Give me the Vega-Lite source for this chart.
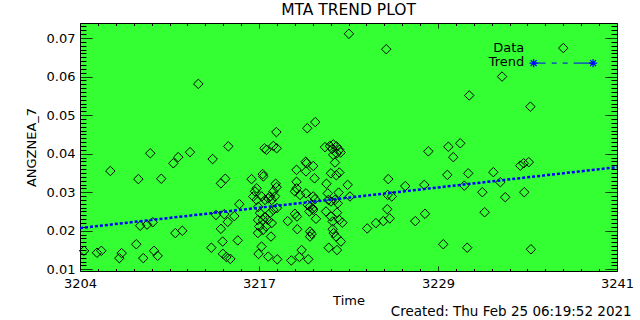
{
  "$schema": "https://vega.github.io/schema/vega-lite/v6.json",
  "width": 537,
  "height": 248,
  "autosize": {"type": "none"},
  "padding": {"left": 80, "top": 23, "right": 23, "bottom": 49},
  "background": "white",
  "title": {"text": "MTA TREND PLOT", "fontSize": 15.5, "fontWeight": "normal", "frame": "group", "anchor": "middle", "offset": 2, "color": "black", "font": "DejaVu Sans"},
  "config": {
    "view": {"stroke": "black", "strokeWidth": 1, "fill": "#33ff33"},
    "font": "DejaVu Sans",
    "axis": {"grid": false, "domain": false, "tickColor": "black", "tickWidth": 1, "labelColor": "black", "titleColor": "black", "labelFont": "DejaVu Sans", "titleFont": "DejaVu Sans", "labelFontSize": 13, "titleFontSize": 13, "titleFontWeight": "normal", "labelOverlap": false, "labelFlush": false, "labelBound": false}
  },
  "datasets": {
    "obs": [
      {"time": 3204.28, "val": 0.0148}, {"time": 3205.17, "val": 0.0143}, {"time": 3205.47, "val": 0.0148}, {"time": 3206.09, "val": 0.0355},
      {"time": 3206.71, "val": 0.0129}, {"time": 3206.87, "val": 0.0142}, {"time": 3207.88, "val": 0.0165}, {"time": 3208.02, "val": 0.0334},
      {"time": 3208.15, "val": 0.0213}, {"time": 3208.36, "val": 0.0129}, {"time": 3208.62, "val": 0.0216}, {"time": 3208.84, "val": 0.0401},
      {"time": 3209.01, "val": 0.0222}, {"time": 3209.10, "val": 0.0148}, {"time": 3209.35, "val": 0.0135}, {"time": 3209.60, "val": 0.0335},
      {"time": 3210.43, "val": 0.0375}, {"time": 3210.57, "val": 0.0194}, {"time": 3210.77, "val": 0.0391}, {"time": 3211.05, "val": 0.0200},
      {"time": 3211.58, "val": 0.0404}, {"time": 3212.15, "val": 0.0581}, {"time": 3213.05, "val": 0.0156}, {"time": 3213.14, "val": 0.0386},
      {"time": 3213.37, "val": 0.0241}, {"time": 3213.71, "val": 0.0323}, {"time": 3214.01, "val": 0.0335}, {"time": 3213.71, "val": 0.0205},
      {"time": 3214.18, "val": 0.0223}, {"time": 3213.94, "val": 0.0243}, {"time": 3214.63, "val": 0.0238}, {"time": 3214.22, "val": 0.0419},
      {"time": 3214.87, "val": 0.0175}, {"time": 3213.83, "val": 0.0172}, {"time": 3213.85, "val": 0.0140}, {"time": 3214.09, "val": 0.0132},
      {"time": 3214.36, "val": 0.0127}, {"time": 3214.98, "val": 0.0269},
      {"time": 3215.82, "val": 0.0334}, {"time": 3216.59, "val": 0.0347}, {"time": 3216.63, "val": 0.0341}, {"time": 3216.71, "val": 0.0414},
      {"time": 3216.85, "val": 0.0410}, {"time": 3217.32, "val": 0.0420}, {"time": 3217.55, "val": 0.0414}, {"time": 3217.53, "val": 0.0456},
      {"time": 3217.48, "val": 0.0322}, {"time": 3216.17, "val": 0.0310}, {"time": 3216.06, "val": 0.0302}, {"time": 3215.94, "val": 0.0289},
      {"time": 3216.17, "val": 0.0280}, {"time": 3216.52, "val": 0.0289}, {"time": 3216.75, "val": 0.0280}, {"time": 3217.09, "val": 0.0289},
      {"time": 3216.97, "val": 0.0284}, {"time": 3217.21, "val": 0.0280}, {"time": 3217.44, "val": 0.0289}, {"time": 3217.32, "val": 0.0302},
      {"time": 3217.55, "val": 0.0313}, {"time": 3216.28, "val": 0.0262}, {"time": 3216.40, "val": 0.0246}, {"time": 3216.26, "val": 0.0228},
      {"time": 3216.61, "val": 0.0228}, {"time": 3216.95, "val": 0.0228}, {"time": 3217.09, "val": 0.0246}, {"time": 3217.32, "val": 0.0254},
      {"time": 3217.57, "val": 0.0259}, {"time": 3216.75, "val": 0.0236}, {"time": 3217.21, "val": 0.0220}, {"time": 3216.26, "val": 0.0194},
      {"time": 3216.35, "val": 0.0211}, {"time": 3216.82, "val": 0.0211}, {"time": 3217.16, "val": 0.0185}, {"time": 3216.51, "val": 0.0159},
      {"time": 3216.30, "val": 0.0140}, {"time": 3216.97, "val": 0.0133}, {"time": 3217.59, "val": 0.0126}, {"time": 3216.61, "val": 0.0202},
      {"time": 3218.31, "val": 0.0225}, {"time": 3218.92, "val": 0.0358}, {"time": 3218.92, "val": 0.0327}, {"time": 3218.93, "val": 0.0310},
      {"time": 3218.81, "val": 0.0302}, {"time": 3219.16, "val": 0.0293}, {"time": 3218.95, "val": 0.0237}, {"time": 3218.81, "val": 0.0244},
      {"time": 3218.97, "val": 0.0204}, {"time": 3219.27, "val": 0.0150}, {"time": 3219.12, "val": 0.0132}, {"time": 3218.56, "val": 0.0123},
      {"time": 3219.73, "val": 0.0126}, {"time": 3219.55, "val": 0.0379}, {"time": 3219.61, "val": 0.0375}, {"time": 3219.57, "val": 0.0354},
      {"time": 3220.07, "val": 0.0368}, {"time": 3220.16, "val": 0.0336}, {"time": 3219.66, "val": 0.0466}, {"time": 3220.21, "val": 0.0482},
      {"time": 3220.07, "val": 0.0289}, {"time": 3220.19, "val": 0.0282}, {"time": 3219.57, "val": 0.0297}, {"time": 3219.85, "val": 0.0263},
      {"time": 3220.03, "val": 0.0258}, {"time": 3219.80, "val": 0.0250}, {"time": 3220.07, "val": 0.0254}, {"time": 3220.26, "val": 0.0231},
      {"time": 3219.69, "val": 0.0267}, {"time": 3219.85, "val": 0.0198}, {"time": 3219.96, "val": 0.0192}, {"time": 3219.85, "val": 0.0185},
      {"time": 3220.88, "val": 0.0417}, {"time": 3221.22, "val": 0.0420}, {"time": 3221.45, "val": 0.0424}, {"time": 3221.67, "val": 0.0419},
      {"time": 3221.87, "val": 0.0410}, {"time": 3221.69, "val": 0.0401}, {"time": 3221.38, "val": 0.0412}, {"time": 3221.96, "val": 0.0403},
      {"time": 3221.45, "val": 0.0397}, {"time": 3221.57, "val": 0.0377}, {"time": 3221.29, "val": 0.0349}, {"time": 3221.66, "val": 0.0344},
      {"time": 3221.87, "val": 0.0351}, {"time": 3220.98, "val": 0.0322}, {"time": 3221.07, "val": 0.0297}, {"time": 3221.82, "val": 0.0299},
      {"time": 3221.29, "val": 0.0276}, {"time": 3221.76, "val": 0.0271}, {"time": 3221.11, "val": 0.0280}, {"time": 3221.57, "val": 0.0280},
      {"time": 3220.95, "val": 0.0250}, {"time": 3221.29, "val": 0.0237}, {"time": 3221.71, "val": 0.0247}, {"time": 3221.87, "val": 0.0228},
      {"time": 3221.41, "val": 0.0224}, {"time": 3221.41, "val": 0.0204}, {"time": 3221.48, "val": 0.0194}, {"time": 3221.64, "val": 0.0185},
      {"time": 3221.98, "val": 0.0172}, {"time": 3221.71, "val": 0.0150}, {"time": 3221.14, "val": 0.0156}, {"time": 3222.44, "val": 0.0319},
      {"time": 3222.60, "val": 0.0289}, {"time": 3222.08, "val": 0.0221},
      {"time": 3222.53, "val": 0.0711}, {"time": 3225.10, "val": 0.0671}, {"time": 3225.24, "val": 0.0334}, {"time": 3225.20, "val": 0.0293},
      {"time": 3225.48, "val": 0.0289}, {"time": 3225.17, "val": 0.0256}, {"time": 3225.34, "val": 0.0232}, {"time": 3224.90, "val": 0.0225},
      {"time": 3224.39, "val": 0.0220}, {"time": 3223.79, "val": 0.0206}, {"time": 3226.41, "val": 0.0316}, {"time": 3227.10, "val": 0.0225},
      {"time": 3227.77, "val": 0.0244}, {"time": 3227.72, "val": 0.0319}, {"time": 3228.00, "val": 0.0406}, {"time": 3229.03, "val": 0.0165},
      {"time": 3229.31, "val": 0.0345}, {"time": 3229.38, "val": 0.0418}, {"time": 3229.72, "val": 0.0391}, {"time": 3230.20, "val": 0.0427},
      {"time": 3230.48, "val": 0.0317}, {"time": 3230.68, "val": 0.0156}, {"time": 3230.75, "val": 0.0349}, {"time": 3230.82, "val": 0.0551},
      {"time": 3231.72, "val": 0.0300}, {"time": 3231.88, "val": 0.0248}, {"time": 3232.48, "val": 0.0352}, {"time": 3232.96, "val": 0.0326},
      {"time": 3233.08, "val": 0.0600}, {"time": 3233.30, "val": 0.0287}, {"time": 3234.34, "val": 0.0369}, {"time": 3234.57, "val": 0.0375},
      {"time": 3234.92, "val": 0.0378}, {"time": 3234.61, "val": 0.0300}, {"time": 3235.03, "val": 0.0522}, {"time": 3235.07, "val": 0.0152}
    ],
    "trend": [
      {"time": 3204, "val": 0.0207},
      {"time": 3241, "val": 0.0365}
    ]
  },
  "layer": [
    {
      "data": {"name": "obs"},
      "mark": {"type": "point", "shape": "diamond", "size": 90, "filled": false, "color": "black", "strokeWidth": 1, "opacity": 1},
      "encoding": {
        "x": {
          "field": "time", "type": "quantitative",
          "scale": {"domain": [3204, 3241], "nice": false, "zero": false},
          "axis": {
            "orient": "bottom", "title": "Time", "titlePadding": 4,
            "values": [3204, 3205.2333, 3206.4667, 3207.7, 3208.9333, 3210.1667, 3211.4, 3212.6333, 3213.8667, 3215.1, 3216.3333, 3217.5667, 3218.8, 3220.0333, 3221.2667, 3222.5, 3223.7333, 3224.9667, 3226.2, 3227.4333, 3228.6667, 3229.9, 3231.1333, 3232.3667, 3233.6, 3234.8333, 3236.0667, 3237.3, 3238.5333, 3239.7667, 3241],
            "labelExpr": "abs(datum.value-3204)<0.05 ? '3204' : abs(datum.value-3216.3333)<0.05 ? '3217' : abs(datum.value-3228.6667)<0.05 ? '3229' : abs(datum.value-3241)<0.05 ? '3241' : ''",
            "tickSize": -5,
            "tickDash": {"condition": {"test": "abs(datum.value-3204)<0.05 || abs(datum.value-3216.3333)<0.05 || abs(datum.value-3228.6667)<0.05 || abs(datum.value-3241)<0.05", "value": [1, 0]}, "value": [2.5, 20]},
            "labelPadding": 11
          }
        },
        "y": {
          "field": "val", "type": "quantitative",
          "scale": {"domain": [0.00956, 0.0739], "nice": false, "zero": false},
          "axis": {
            "orient": "left", "title": "ANGZNEA_7", "titlePadding": 8,
            "values": [0.010, 0.011, 0.012, 0.013, 0.014, 0.015, 0.016, 0.017, 0.018, 0.019, 0.020, 0.021, 0.022, 0.023, 0.024, 0.025, 0.026, 0.027, 0.028, 0.029, 0.030, 0.031, 0.032, 0.033, 0.034, 0.035, 0.036, 0.037, 0.038, 0.039, 0.040, 0.041, 0.042, 0.043, 0.044, 0.045, 0.046, 0.047, 0.048, 0.049, 0.050, 0.051, 0.052, 0.053, 0.054, 0.055, 0.056, 0.057, 0.058, 0.059, 0.060, 0.061, 0.062, 0.063, 0.064, 0.065, 0.066, 0.067, 0.068, 0.069, 0.070, 0.071, 0.072, 0.073],
            "labelExpr": "abs(datum.value*100 - round(datum.value*100)) < 0.01 ? format(datum.value, '.2f') : ''",
            "tickSize": -12,
            "tickDash": {"condition": {"test": "abs(datum.value*100 - round(datum.value*100)) < 0.01", "value": [1, 0]}, "value": [6, 30]},
            "labelPadding": 17
          }
        }
      }
    },
    {
      "data": {"name": "trend"},
      "mark": {"type": "line", "color": "#0000ff", "strokeWidth": 2.5, "strokeDash": [3, 2]},
      "encoding": {
        "x": {
          "field": "time", "type": "quantitative",
          "axis": {
            "orient": "top", "title": null, "labels": false,
            "values": [3204, 3205.2333, 3206.4667, 3207.7, 3208.9333, 3210.1667, 3211.4, 3212.6333, 3213.8667, 3215.1, 3216.3333, 3217.5667, 3218.8, 3220.0333, 3221.2667, 3222.5, 3223.7333, 3224.9667, 3226.2, 3227.4333, 3228.6667, 3229.9, 3231.1333, 3232.3667, 3233.6, 3234.8333, 3236.0667, 3237.3, 3238.5333, 3239.7667, 3241],
            "tickSize": -5,
            "tickDash": {"condition": {"test": "abs(datum.value-3204)<0.05 || abs(datum.value-3216.3333)<0.05 || abs(datum.value-3228.6667)<0.05 || abs(datum.value-3241)<0.05", "value": [1, 0]}, "value": [2.5, 20]}
          }
        },
        "y": {
          "field": "val", "type": "quantitative",
          "axis": {
            "orient": "right", "title": null, "labels": false,
            "values": [0.010, 0.011, 0.012, 0.013, 0.014, 0.015, 0.016, 0.017, 0.018, 0.019, 0.020, 0.021, 0.022, 0.023, 0.024, 0.025, 0.026, 0.027, 0.028, 0.029, 0.030, 0.031, 0.032, 0.033, 0.034, 0.035, 0.036, 0.037, 0.038, 0.039, 0.040, 0.041, 0.042, 0.043, 0.044, 0.045, 0.046, 0.047, 0.048, 0.049, 0.050, 0.051, 0.052, 0.053, 0.054, 0.055, 0.056, 0.057, 0.058, 0.059, 0.060, 0.061, 0.062, 0.063, 0.064, 0.065, 0.066, 0.067, 0.068, 0.069, 0.070, 0.071, 0.072, 0.073],
            "tickSize": -12,
            "tickDash": {"condition": {"test": "abs(datum.value*100 - round(datum.value*100)) < 0.01", "value": [1, 0]}, "value": [6, 30]}
          }
        }
      }
    },
    {
      "data": {"values": [{}]},
      "mark": {"type": "text", "text": "Data", "align": "right", "baseline": "middle", "fontSize": 13, "color": "black"},
      "encoding": {"x": {"datum": 3234.61, "type": "quantitative", "axis": null}, "y": {"datum": 0.0674, "type": "quantitative", "axis": null}}
    },
    {
      "data": {"values": [{}]},
      "mark": {"type": "text", "text": "Trend", "align": "right", "baseline": "middle", "fontSize": 13, "color": "black"},
      "encoding": {"x": {"datum": 3234.61, "type": "quantitative", "axis": null}, "y": {"datum": 0.0637, "type": "quantitative", "axis": null}}
    },
    {
      "data": {"values": [{}]},
      "mark": {"type": "point", "shape": "diamond", "size": 90, "filled": false, "color": "black", "strokeWidth": 1, "opacity": 1},
      "encoding": {"x": {"datum": 3237.30, "type": "quantitative", "axis": null}, "y": {"datum": 0.0674, "type": "quantitative", "axis": null}}
    },
    {
      "data": {"values": [{}]},
      "mark": {"type": "rule", "color": "#0000ff", "strokeWidth": 1, "strokeDash": [12, 6, 5, 6, 5, 6, 20]},
      "encoding": {"x": {"datum": 3235.26, "type": "quantitative", "axis": null}, "x2": {"datum": 3239.35}, "y": {"datum": 0.0635, "type": "quantitative", "axis": null}}
    },
    {
      "data": {"values": [{}]},
      "mark": {"type": "point", "shape": "M-1,0L1,0M0,-1L0,1M-0.7,-0.7L0.7,0.7M-0.7,0.7L0.7,-0.7", "size": 70, "filled": false, "color": "#0000ff", "strokeWidth": 1.2, "opacity": 1},
      "encoding": {"x": {"datum": 3235.26, "type": "quantitative", "axis": null}, "y": {"datum": 0.0635, "type": "quantitative", "axis": null}}
    },
    {
      "data": {"values": [{}]},
      "mark": {"type": "point", "shape": "M-1,0L1,0M0,-1L0,1M-0.7,-0.7L0.7,0.7M-0.7,0.7L0.7,-0.7", "size": 70, "filled": false, "color": "#0000ff", "strokeWidth": 1.2, "opacity": 1},
      "encoding": {"x": {"datum": 3239.35, "type": "quantitative", "axis": null}, "y": {"datum": 0.0635, "type": "quantitative", "axis": null}}
    },
    {
      "data": {"values": [{}]},
      "mark": {"type": "text", "text": "Created: Thu Feb 25 06:19:52 2021", "align": "right", "baseline": "middle", "fontSize": 13.5, "color": "black"},
      "encoding": {"x": {"datum": 3242.01, "type": "quantitative", "axis": null}, "y": {"datum": -0.00101, "type": "quantitative", "axis": null}}
    }
  ]
}
